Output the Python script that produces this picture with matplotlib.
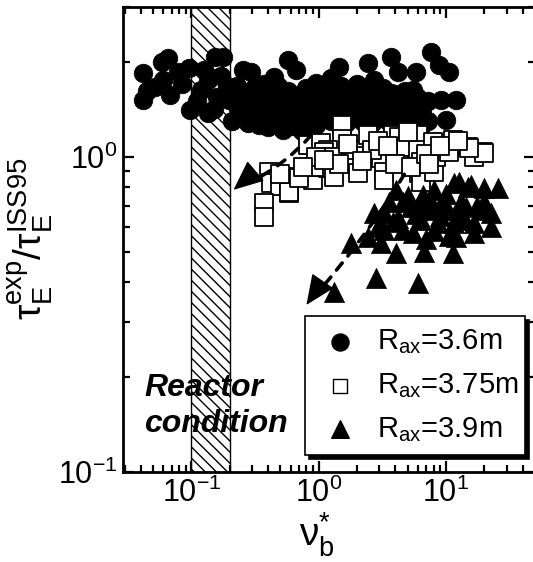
import numpy as np
import matplotlib
matplotlib.use("Agg")
import matplotlib.pyplot as plt
from matplotlib.ticker import LogLocator, NullFormatter

plt.rcParams['font.family'] = ['Liberation Sans', 'DejaVu Sans']
plt.rcParams['mathtext.fontset'] = 'custom'
plt.rcParams['mathtext.rm'] = 'Liberation Sans'
plt.rcParams['mathtext.it'] = 'Liberation Sans:italic'

# R_ax = 3.6 m
nu_36 = [0.042, 0.042, 0.052, 0.059, 0.065, 0.068, 0.078, 0.095, 0.098, 0.118,
         0.134, 0.154, 0.176, 0.134, 0.196, 0.252, 0.291, 0.442, 0.570, 0.659,
         1.44, 2.43, 2.71, 3.69, 4.19, 5.80, 7.62, 8.82, 10.6, 12.0,
         9.1, 10.0, 5.5, 3.69,
         0.045, 0.06, 0.085, 0.11, 0.125, 0.16, 0.17, 0.19, 0.15,
         0.21, 0.21, 0.23, 0.23, 0.25, 0.26, 0.28, 0.28, 0.31, 0.31,
         0.34, 0.34, 0.37, 0.37, 0.40, 0.40, 0.44, 0.44, 0.48, 0.48,
         0.52, 0.52, 0.57, 0.57, 0.62, 0.62, 0.68, 0.68, 0.74, 0.74,
         0.80, 0.80, 0.88, 0.88, 0.95, 0.95, 1.05, 1.05, 1.15, 1.15,
         1.25, 1.25, 1.35, 1.35, 1.50, 1.50, 1.65, 1.65, 1.80, 1.80,
         2.0, 2.0, 2.2, 2.2, 2.4, 2.4, 2.6, 2.6, 2.9, 2.9,
         3.2, 3.2, 3.5, 3.5, 3.9, 3.9, 4.3, 4.3, 4.8, 4.8,
         5.3, 5.3, 5.9, 5.9, 6.5, 6.5, 7.2, 7.2]
tau_36 = [1.85, 1.52, 1.67, 2.00, 2.06, 1.57, 1.86, 1.92, 1.41, 1.63,
          1.38, 2.08, 2.08, 1.76, 1.52, 1.89, 1.86, 1.79, 2.03, 1.89,
          1.93, 1.99, 1.76, 2.08, 1.86, 1.86, 2.15, 1.96, 1.86, 1.52,
          1.52, 1.31, 1.63, 1.60,
          1.62, 1.75, 1.70, 1.50, 1.88, 1.55, 1.80, 1.68, 1.42,
          1.30, 1.55, 1.45, 1.68, 1.36, 1.60, 1.28, 1.50, 1.40, 1.66,
          1.26, 1.55, 1.33, 1.70, 1.45, 1.24, 1.30, 1.58, 1.38, 1.68,
          1.22, 1.50, 1.32, 1.62, 1.44, 1.25, 1.35, 1.56, 1.21, 1.48,
          1.30, 1.66, 1.40, 1.55, 1.26, 1.72, 1.35, 1.50, 1.44, 1.62,
          1.30, 1.78, 1.40, 1.55, 1.33, 1.68, 1.45, 1.28, 1.36, 1.58,
          1.42, 1.70, 1.30, 1.52, 1.38, 1.62, 1.46, 1.28, 1.34, 1.55,
          1.42, 1.66, 1.30, 1.50, 1.38, 1.58, 1.30, 1.46, 1.36, 1.62,
          1.28, 1.48, 1.33, 1.55, 1.26, 1.42, 1.30, 1.50]

# R_ax = 3.75 m
nu_375 = [1.52, 1.52, 0.82, 1.04, 1.18, 0.404, 0.419, 0.493, 0.58, 0.696,
          0.897, 0.947, 1.18, 1.31, 1.63, 2.03, 1.89, 2.43, 2.26, 3.08,
          3.25, 3.25, 3.82, 4.27, 4.27, 4.84, 6.02, 6.02, 6.35, 6.12,
          6.35, 8.04, 7.9, 8.33, 10.6, 11.4, 14.9, 19.5, 16.6, 0.369,
          0.369, 1.09, 0.913, 0.58, 0.696, 20.0, 15.1,
          1.3, 1.45, 1.7, 2.6, 2.9, 3.5, 4.0, 5.0, 5.3, 7.0,
          7.4, 9.0, 12.5, 0.95, 0.75, 0.5, 2.2, 1.1]
tau_375 = [1.26, 1.14, 1.09, 1.11, 1.05, 0.896, 0.827, 0.809, 0.769, 0.864,
           0.845, 0.930, 0.923, 0.864, 0.964, 0.890, 1.05, 1.17, 1.007, 0.993,
           0.896, 0.845, 1.17, 1.16, 0.993, 1.076, 1.17, 1.05, 0.964, 0.890,
           0.833, 0.896, 1.116, 1.0, 1.037, 1.13, 1.076, 1.037, 1.0, 0.715,
           0.645, 1.037, 0.930, 0.774, 0.858, 1.03, 1.07,
           1.0, 0.95, 1.1, 1.05, 1.12, 1.08, 0.95, 1.2, 0.93, 1.02,
           0.95, 1.08, 1.12, 1.0, 0.93, 0.88, 0.97, 0.98]

# R_ax = 3.9 m
nu_39 = [4.04, 3.56, 2.71, 3.25, 4.59, 5.30, 6.59, 8.04, 9.46, 11.6,
         12.7, 14.9, 19.9, 25.7, 7.21, 10.4, 14.4, 19.9, 22.6, 16.6,
         22.6, 11.6, 8.66, 6.35, 4.59, 5.50, 3.25, 2.43, 1.79, 3.08,
         4.04, 6.71, 11.4, 12.0, 16.6, 2.81, 6.02, 1.31, 15.7,
         5.0, 6.0, 7.5, 9.0, 10.0, 13.0, 17.5, 4.2, 3.8, 8.0,
         14.0, 2.9, 5.8, 9.5, 12.5, 20.0, 7.0, 10.5]
tau_39 = [0.786, 0.720, 0.664, 0.664, 0.720, 0.694, 0.758, 0.786, 0.720, 0.827,
          0.833, 0.803, 0.797, 0.797, 0.679, 0.679, 0.694, 0.679, 0.664, 0.617,
          0.600, 0.617, 0.617, 0.631, 0.586, 0.574, 0.586, 0.557, 0.533, 0.533,
          0.496, 0.500, 0.496, 0.557, 0.574, 0.413, 0.398, 0.373, 0.815,
          0.75, 0.70, 0.73, 0.65, 0.76, 0.72, 0.70, 0.64, 0.62, 0.58,
          0.63, 0.60, 0.66, 0.70, 0.66, 0.72, 0.55, 0.56]

reactor_band = (0.1, 0.2)
labels = [r'R$_\mathregular{ax}$=3.6m', r'R$_\mathregular{ax}$=3.75m',
          r'R$_\mathregular{ax}$=3.9m']

fig = plt.figure(figsize=(5.33, 5.62), dpi=100)
ax = fig.add_axes([0.2308, 0.1601, 0.773, 0.8283])
ax.set_xscale('log')
ax.set_yscale('log')
ax.set_xlim(0.029, 50)
ax.set_ylim(0.1, 3.0)

plt.rcParams['hatch.linewidth'] = 1.0
ax.axvspan(*reactor_band, facecolor='white', edgecolor='black', hatch='\\\\\\',
           lw=1.0, zorder=1)

ax.scatter(nu_36, tau_36, s=180, marker='o', c='black', edgecolors='black',
           linewidths=0.5, zorder=2)
ax.scatter(nu_375, tau_375, s=150, marker='s', c='white', edgecolors='black',
           linewidths=1.3, zorder=3)
ax.scatter(nu_39, tau_39, s=210, marker='^', c='black', edgecolors='black',
           linewidths=0.5, zorder=4)

# dashed trend arrows, heads drawn solid on top
line_kw = dict(arrowstyle='-', color='black', lw=2.6, linestyle=(0, (2.5, 2.5)),
               capstyle='round', shrinkA=0, shrinkB=12)
head_kw = dict(arrowstyle='-|>,head_length=0.8,head_width=0.35', color='black',
               lw=1, mutation_scale=24, shrinkA=0, shrinkB=0)
ax.annotate('', xy=(0.214, 0.786), xytext=(0.87, 1.17),
            arrowprops=dict(connectionstyle='arc3,rad=-0.12', **line_kw), zorder=5)
ax.annotate('', xy=(0.214, 0.786), xytext=(0.26, 0.84),
            arrowprops=head_kw, zorder=5)
ax.annotate('', xy=(0.80, 0.339), xytext=(4.7, 0.88),
            arrowprops=dict(connectionstyle='arc3,rad=-0.05', **line_kw), zorder=5)
ax.annotate('', xy=(0.80, 0.339), xytext=(0.95, 0.375),
            arrowprops=head_kw, zorder=5)

ax.text(0.0425, 0.162, 'Reactor\ncondition', fontsize=23, fontweight='bold',
        fontstyle='italic', ha='left', va='center', linespacing=1.3, zorder=6)

# legend handles
h1 = ax.scatter([], [], s=150, marker='o', c='black')
h2 = ax.scatter([], [], s=90, marker='s', c='white', edgecolors='black', linewidths=1.0)
h3 = ax.scatter([], [], s=160, marker='^', c='black')
leg = ax.legend([h1, h2, h3], labels, loc='lower left',
                bbox_to_anchor=(0.442, 0.0365, 0.534, 0.305), mode='expand',
                borderaxespad=0, fontsize=21, frameon=True, fancybox=False,
                borderpad=0.38, labelspacing=0.52, handletextpad=0.5,
                handlelength=1.6,
                shadow={'ox': 3, 'oy': -3, 'color': 'black', 'alpha': 1})
leg.get_frame().set_edgecolor('black')
leg.get_frame().set_linewidth(1.2)
leg.set_zorder(10)

for s in ax.spines.values():
    s.set_linewidth(2.0)
ax.tick_params(which='both', direction='in', top=True, right=True, labelsize=22,
               width=1.6)
ax.tick_params(which='major', length=8, pad=4)
ax.tick_params(which='minor', length=5)
ax.yaxis.set_minor_locator(LogLocator(base=10, subs=np.arange(2, 10)))
ax.yaxis.set_minor_formatter(NullFormatter())
ax.xaxis.set_minor_formatter(NullFormatter())

ax.set_xlabel('ν$^\\mathregular{*}_\\mathregular{b}$', fontsize=28)
ax.xaxis.set_label_coords(0.47, -0.083)
ax.set_ylabel('τ$_\\mathregular{E}^\\mathregular{exp}$/τ$_\\mathregular{E}^\\mathregular{ISS95}$',
              fontsize=28, labelpad=2)

fig.savefig('out.png', dpi=100)
